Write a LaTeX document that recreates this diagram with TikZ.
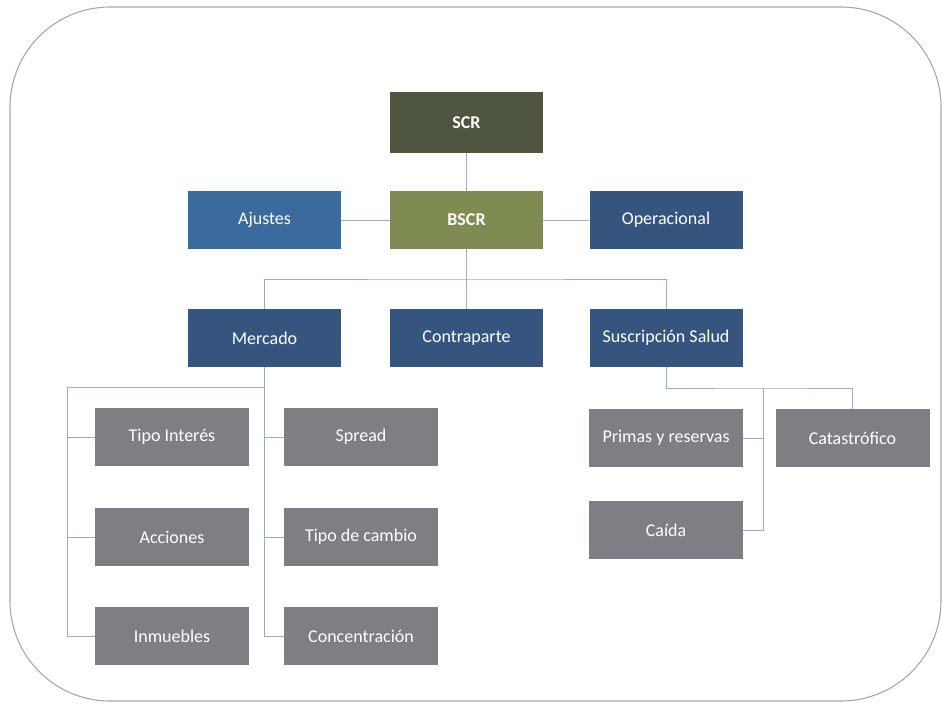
\documentclass[tikz,border=0pt]{standalone}
\usepackage{fontspec}
\setmainfont{Carlito}
\definecolor{scrcol}{HTML}{4E5640}
\definecolor{bscrcol}{HTML}{7E8B52}
\definecolor{ajcol}{HTML}{3B6A9C}
\definecolor{navy}{HTML}{35557F}
\definecolor{greybox}{HTML}{7E7F85}
\definecolor{linecol}{HTML}{98ACC3}
\definecolor{framecol}{HTML}{A8A8A8}
\tikzset{
  box/.style={draw=none, minimum width=153pt, minimum height=58pt, inner sep=0pt, text=white, font=\fontsize{18}{21}\selectfont},
  topbox/.style={box, fill=#1, font=\fontsize{18}{21}\selectfont\bfseries},
  bluebox/.style={box, fill=#1},
  greyb/.style={box, fill=greybox, minimum width=154pt},
  conn/.style={draw=linecol, line width=0.9pt}
}
\begin{document}
\begin{tikzpicture}[x=1pt,y=-1pt]
\useasboundingbox (0,0) rectangle (942,704);
\fill[white] (0,0) rectangle (942,704);
\draw[framecol, line width=1.1pt, rounded corners=100pt] (10,7) rectangle (941,701);

\node[topbox=scrcol, minimum height=61pt] (scr) at (466.5,122.5) {SCR};
\node[topbox=bscrcol] (bscr) at (466.5,220) {BSCR};
\node[bluebox=ajcol] (aj) at (264.5,220) {Ajustes};
\node[bluebox=navy] (op) at (666,220) {Operacional};
\node[bluebox=navy] (mer) at (264.5,338) {Mercado};
\node[bluebox=navy] (con) at (466.5,338) {Contraparte};
\node[bluebox=navy] (sus) at (666,338) {Suscripción Salud};

\node[greyb] (ti) at (172,437) {Tipo Interés};
\node[greyb] (ac) at (172,537) {Acciones};
\node[greyb] (in) at (172,636) {Inmuebles};
\node[greyb] (sp) at (361,437) {Spread};
\node[greyb] (tc) at (361,537) {Tipo de cambio};
\node[greyb] (cc) at (361,636) {Concentración};

\node[greyb] (pr) at (666,438) {Primas y reservas};
\node[greyb] (ca) at (852.5,438) {Catastrófico};
\node[greyb] (cd) at (666,530) {Caída};

\coordinate (b1) at (466.5,279);
\coordinate (m1) at (264.5,387);
\coordinate (lb) at (67,387);
\coordinate (s1) at (763,388);

\draw[conn] (scr.south) -- (bscr.north);
\draw[conn] (aj.east) -- (bscr.west);
\draw[conn] (bscr.east) -- (op.west);
\draw[conn] (bscr.south) -- (con.north);
\draw[conn] (mer.north) |- (b1) -| (sus.north);

\draw[conn] (mer.south) |- (cc.west);
\draw[conn] (m1) -- (lb) |- (in.west);
\draw[conn] (ti.west) -- (ti.west -| lb);
\draw[conn] (ac.west) -- (ac.west -| lb);
\draw[conn] (sp.west) -- (sp.west -| mer.south);
\draw[conn] (tc.west) -- (tc.west -| mer.south);

\draw[conn] (sus.south) |- (s1) -| (ca.north);
\draw[conn] (s1) |- (cd.east);
\draw[conn] (pr.east) -- (pr.east -| s1);
\end{tikzpicture}
\end{document}
